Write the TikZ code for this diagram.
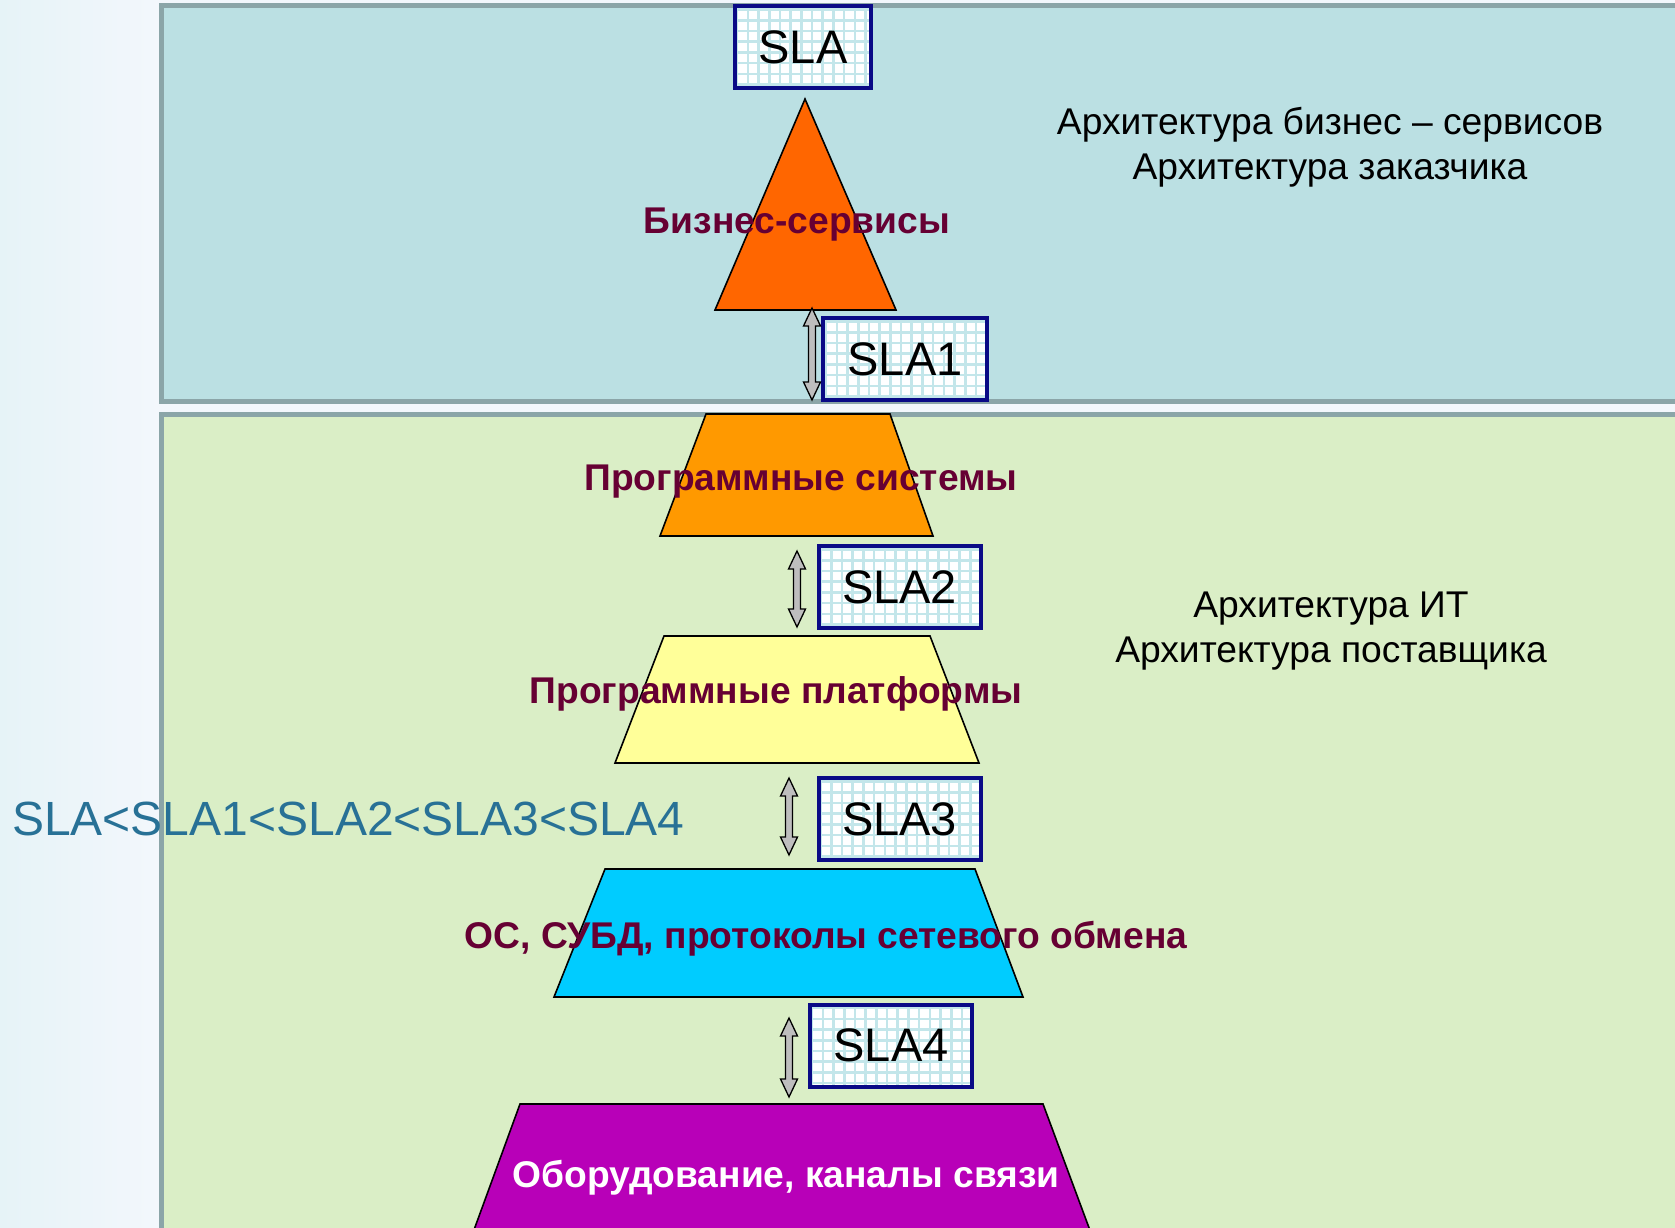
\documentclass[tikz,border=0pt]{standalone}
\usepackage{fontspec}
\setmainfont{Liberation Sans}
\usetikzlibrary{calc}

\definecolor{bgpale}{HTML}{F3F7FC}
\definecolor{bgcyan}{HTML}{E6F3F7}
\definecolor{panelblue}{HTML}{BBE0E3}
\definecolor{panelgreen}{HTML}{DAEEC6}
\definecolor{panelrim}{HTML}{8BA5A8}
\definecolor{navy}{HTML}{0A0A86}
\definecolor{gridcyan}{HTML}{C3E6EA}
\definecolor{maroon}{HTML}{660033}
\definecolor{tealtext}{HTML}{287196}
\definecolor{arrowgray}{HTML}{BEBEBE}
\definecolor{cOrangeRed}{HTML}{FF6600}
\definecolor{cOrange}{HTML}{FF9900}
\definecolor{cYellow}{HTML}{FFFF99}
\definecolor{cCyan}{HTML}{00CCFF}
\definecolor{cPurple}{HTML}{B800B8}

\tikzset{
  panel/.style={draw=panelrim, line width=5pt},
  layer/.style={draw=black, line width=1.6pt, line join=miter},
  slabox/.style={draw=navy, line width=4pt, fill=white,
    minimum width=#1, minimum height=82pt, inner sep=0pt,
    font=\fontsize{47}{50}\selectfont,
    path picture={\draw[gridcyan, line width=2.6pt]
      (path picture bounding box.south west) grid[step=10.7pt]
      (path picture bounding box.north east);}},
  slabox/.default=162pt,
  layertext/.style={text=maroon, font=\fontsize{37.2}{42}\selectfont\bfseries, inner sep=0pt},
  sidetext/.style={align=center, font=\fontsize{37.2}{45}\selectfont, inner sep=0pt},
  dblarrow/.style={draw=black, fill=arrowgray, line width=1.3pt, line join=miter}
}

% vertical double-headed arrow between two named points
\newcommand\vdblarrow[2]{%
  \draw[dblarrow] (#1) -- ($(#1)+(8.5,18)$) -- ($(#1)+(3.5,18)$)
    -- ($(#2)+(3.5,-18)$) -- ($(#2)+(8.5,-18)$) -- (#2)
    -- ($(#2)+(-8.5,-18)$) -- ($(#2)+(-3.5,-18)$)
    -- ($(#1)+(-3.5,18)$) -- ($(#1)+(-8.5,18)$) -- cycle;}

\begin{document}
\begin{tikzpicture}[x=1pt, y=-1pt]
  \useasboundingbox (0,0) rectangle (1675,1228);
  \clip (0,0) rectangle (1675,1228);

  % page background
  \fill[bgpale] (0,0) rectangle (1675,1228);
  \shade[left color=bgcyan, right color=bgpale] (0,0) rectangle (160,1228);

  % two architecture panels
  \draw[panel, fill=panelblue]  (161,6)   rectangle (1700,401);
  \draw[panel, fill=panelgreen] (161,414) rectangle (1700,1260);

  % layers of the pyramid
  \draw[layer, fill=cOrangeRed] (805,99) -- (896,310) -- (715,310) -- cycle;
  \draw[layer, fill=cOrange] (706,414) -- (890,414) -- (933,536) -- (660,536) -- cycle;
  \draw[layer, fill=cYellow] (664,636) -- (930,636) -- (979,763) -- (615,763) -- cycle;
  \draw[layer, fill=cCyan]   (605,869) -- (975,869) -- (1023,997) -- (554,997) -- cycle;
  \draw[layer, fill=cPurple] (520,1104) -- (1043,1104) -- (1101,1260) -- (463,1260) -- cycle;

  % layer captions
  \node[layertext] (biz)  at (797,225)  {Бизнес-сервисы};
  \node[layertext] (psys) at (801,482)  {Программные системы};
  \node[layertext] (pplt) at (776,694)  {Программные платформы};
  \node[layertext] (os)   at (826,939)  {ОС, СУБД, протоколы сетевого обмена};
  \node[layertext, text=white] (hw) at (786,1178) {Оборудование, каналы связи};

  % service level agreements
  \node[slabox=136pt] (sla)  at (803,47)   {SLA};
  \node[slabox=164pt] (sla1) at (905,359)  {SLA1};
  \node[slabox]       (sla2) at (899.5,587) {SLA2};
  \node[slabox]       (sla3) at (899.5,819) {SLA3};
  \node[slabox]       (sla4) at (891,1045.5) {SLA4};

  % arrow end points between the layers
  \coordinate (a1t) at (812,308);  \coordinate (a1b) at (812,400);
  \coordinate (a2t) at (797,551);  \coordinate (a2b) at (797,627);
  \coordinate (a3t) at (789,778);  \coordinate (a3b) at (789,855);
  \coordinate (a4t) at (789,1018); \coordinate (a4b) at (789,1097);
  \vdblarrow{a1t}{a1b}
  \vdblarrow{a2t}{a2b}
  \vdblarrow{a3t}{a3b}
  \vdblarrow{a4t}{a4b}

  % side descriptions
  \node[sidetext] (bizarch) at (1330,147) {Архитектура бизнес – сервисов\\Архитектура заказчика};
  \node[sidetext] (itarch)  at (1331,631) {Архитектура ИТ\\Архитектура поставщика};

  % ordering of the agreements
  \node[anchor=west, inner sep=0pt, text=tealtext, font=\fontsize{48}{52}\selectfont]
    (order) at (12,819) {SLA<SLA1<SLA2<SLA3<SLA4};
\end{tikzpicture}
\end{document}
